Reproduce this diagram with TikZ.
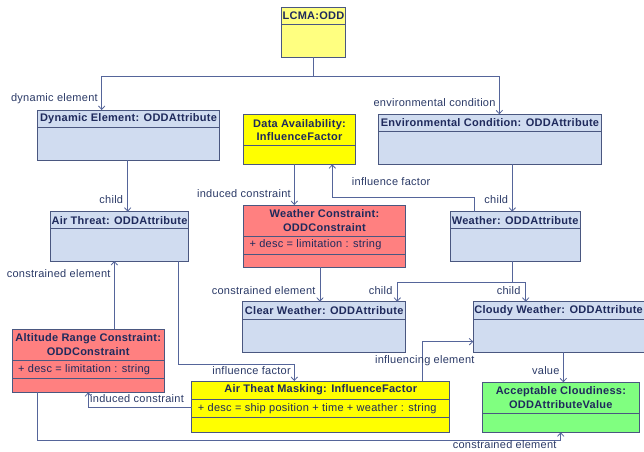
\documentclass[tikz,border=0pt]{standalone}
\usepackage{fontspec}
\setmainfont{Liberation Sans}[LetterSpace=2.5]
\usetikzlibrary{arrows.meta,calc}
\definecolor{bluefill}{HTML}{D0DCF0}
\definecolor{yelfill}{HTML}{FFFF00}
\definecolor{ltyelfill}{HTML}{FFFF80}
\definecolor{redfill}{HTML}{FF8080}
\definecolor{grnfill}{HTML}{80FF80}
\definecolor{bordercol}{HTML}{4A5780}
\definecolor{hdrcol}{HTML}{1F2A5C}
\definecolor{lblcol}{HTML}{2B3A67}
\definecolor{conncol}{HTML}{55659A}
\tikzset{
  umlbox/.style={draw=bordercol, line width=0.8pt, rectangle, inner sep=0pt, outer sep=0pt, anchor=north west},
  sepline/.style={draw=bordercol, line width=0.8pt},
  hdr/.style={font=\fontsize{11}{13.7}\selectfont\bfseries, text=hdrcol, align=center, inner sep=0pt},
  attr/.style={font=\fontsize{11}{13.7}\selectfont, text=hdrcol, inner sep=0pt, anchor=west},
  lbl/.style={font=\fontsize{11}{13}\selectfont, text=lblcol, inner sep=0pt, text height=8pt, text depth=0pt},
  conn/.style={draw=conncol, line width=0.8pt},
  arr/.style={conn, -{Straight Barb[length=3.5pt,width=6.5pt]}},
}
\newcommand\umlnode[8]{%
  \node[umlbox, fill=#6, minimum width=#4pt, minimum height=#5pt] (#1) at (#2,#3) {};
  \draw[sepline] ($(#1.north west)+(0,#7)$) -- ($(#1.north east)+(0,#7)$);
  \node[hdr] (#1-h) at ($(#1.north)+(0,#7/2)$) {#8};
}
\newcommand\umlattr[4]{%
  \draw[sepline] ($(#1.north west)+(0,#2+#3)$) -- ($(#1.north east)+(0,#2+#3)$);
  \node[attr] (#1-a) at ($(#1.north west)+(6,#2+#3/2)$) {#4};
}
\begin{document}
\begin{tikzpicture}[x=1pt,y=-1pt]
\useasboundingbox (0,0) rectangle (644,451);
\fill[white] (0,0) rectangle (644,451);

% boxes
\umlnode{lcma}{281.7}{7.3}{63.6}{50}{ltyelfill}{17}{LCMA:ODD}
\umlnode{dyn}{37.3}{110}{182.4}{50}{bluefill}{17.7}{Dynamic Element: ODDAttribute}
\umlnode{da}{243.3}{114.3}{112.4}{50}{yelfill}{31.4}{Data Availability:\\InfluenceFactor}
\umlnode{env}{378.6}{114.3}{222.7}{50}{bluefill}{17.4}{Environmental Condition: ODDAttribute}
\umlnode{air}{50.3}{211.7}{138.4}{49.3}{bluefill}{17}{Air Threat: ODDAttribute}
\umlnode{wc}{243.3}{205}{162.4}{62.3}{redfill}{31}{Weather Constraint:\\ODDConstraint}
\umlattr{wc}{31}{18}{+ desc = limitation : string}
\umlnode{wea}{450.3}{211.7}{129.7}{49.3}{bluefill}{17}{Weather: ODDAttribute}
\umlnode{clr}{242.7}{301.7}{163}{50.6}{bluefill}{17.6}{Clear Weather: ODDAttribute}
% cloudy weather (cut by the right edge)
\node[umlbox, fill=bluefill, minimum width=200pt, minimum height=50.6pt] (cld) at (473.3,301.7) {};
\draw[sepline] ($(cld.north west)+(0,17.6)$) -- ($(cld.north east)+(0,17.6)$);
\node[hdr, anchor=west] (cld-h) at ($(cld.north west)+(0.8,8.8)$) {Cloudy Weather: ODDAttribute};
\umlnode{alt}{12}{329.3}{152.3}{63}{redfill}{31}{Altitude Range Constraint:\\ODDConstraint}
\umlattr{alt}{31}{18}{+ desc = limitation : string}
\umlnode{atm}{191.7}{381}{258}{51.3}{yelfill}{18}{Air Theat Masking: InfluenceFactor}
\umlattr{atm}{18}{18.3}{+ desc = ship position + time + weather : string}
\umlnode{ac}{482.7}{382.3}{156.3}{50}{grnfill}{31}{Acceptable Cloudiness:\\ODDAttributeValue}

% connectors
\coordinate (j1) at ($(lcma.south)+(0,19)$);
\draw[conn] (lcma.south) -- (j1);
\draw[arr] (j1) -| ($(dyn.north west)+(64.4,0)$);
\draw[arr] (j1) -| ($(env.north west)+(120.7,0)$);
\draw[arr] ($(dyn.south west)+(90.4,0)$) coordinate (c3) -- (c3 |- air.north);
\draw[arr] ($(env.south west)+(133.7,0)$) coordinate (c4) -- (c4 |- wea.north);
\draw[arr] ($(da.south west)+(51,0)$) coordinate (c5) -- (c5 |- wc.north);
\draw[arr] ($(wea.north west)+(23.7,0)$) -- ++(0,-14) -| ($(da.south west)+(89,0)$);
\draw[arr] ($(wc.south west)+(76.7,0)$) coordinate (c7) -- (c7 |- clr.north);
\coordinate (j2) at ($(wea.south west)+(62,21.3)$);
\draw[conn] ($(wea.south west)+(62,0)$) -- (j2);
\draw[arr] (j2) -| ($(clr.north west)+(154.6,0)$);
\draw[arr] (j2) -| ($(cld.north west)+(52.4,0)$);
\draw[arr] ($(alt.north west)+(102.3,0)$) coordinate (c9) -- (c9 |- air.south);
\draw[arr] ($(air.south west)+(128.4,0)$) -- ++(0,103.3) -| ($(atm.north west)+(102.6,0)$);
\draw[arr] ($(atm.north west)+(0,26.3)$) -| ($(alt.south west)+(76.3,0)$);
\draw[arr] ($(atm.north west)+(230.6,0)$) |- ($(cld.north west)+(0,40)$);
\draw[arr] ($(cld.south west)+(90,0)$) coordinate (c13) -- (c13 |- ac.north);
\draw[arr] ($(alt.south west)+(25.7,0)$) -- ++(0,47.7) -| ($(ac.south west)+(78,0)$);

% labels
\node[lbl, anchor=east] (l1) at (98,97.8) {dynamic element};
\node[lbl, anchor=east] (l2) at (495.7,102.3) {environmental condition};
\node[lbl, anchor=east] (l3) at (123.3,199) {child};
\node[lbl, anchor=east] (l4) at (508.3,199) {child};
\node[lbl, anchor=east] (l5) at (291,193.3) {induced constraint};
\node[lbl, anchor=west] (l6) at (351.7,181) {influence factor};
\node[lbl, anchor=east] (l7) at (315.7,290) {constrained element};
\node[lbl, anchor=east] (l8) at (392.7,290) {child};
\node[lbl, anchor=east] (l9) at (520.7,290) {child};
\node[lbl, anchor=east] (l10) at (110.7,273) {constrained element};
\node[lbl, anchor=east] (l11) at (291,370) {influence factor};
\node[lbl, anchor=west] (l12) at (90,398.3) {induced constraint};
\node[lbl, anchor=east] (l13) at (474.7,359.3) {influencing element};
\node[lbl, anchor=east] (l14) at (559.7,370.3) {value};
\node[lbl, anchor=east] (l15) at (556.7,444) {constrained element};
\end{tikzpicture}
\end{document}
